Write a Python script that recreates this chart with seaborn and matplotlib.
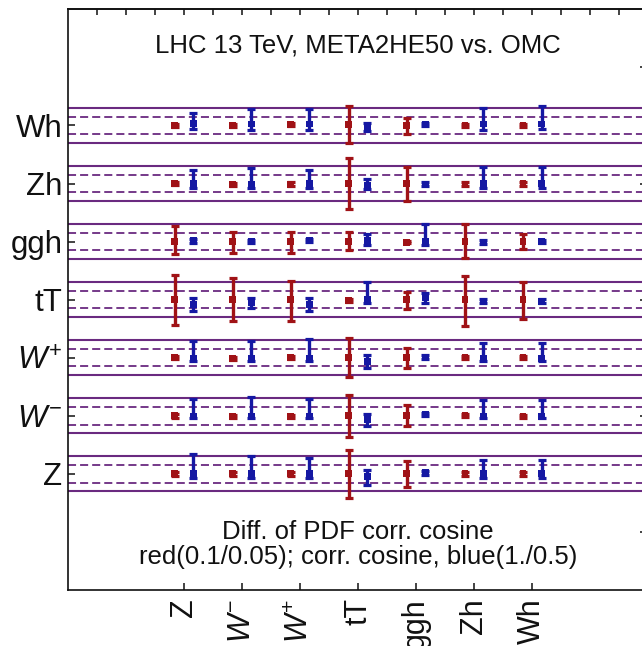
import numpy as np
import pandas as pd
import matplotlib
matplotlib.use("Agg")
import matplotlib.pyplot as plt
import seaborn as sns

# Processes, listed bottom-to-top on the y axis and left-to-right on the x axis
processes = ["Z", "W-", "W+", "tT", "ggh", "Zh", "Wh"]
tick_labels = ["Z", r"$W^{-}$", r"$W^{+}$", "tT", "ggh", "Zh", "Wh"]

# Difference of PDF correlation cosine (red): value and error-bar bounds.
# One row per y-process (Z ... Wh), one entry per x-process (Z ... Wh).
red_val = [
    [0.0, 0.0, 0.0, 0.0, 0.0, 0.0, 0.0],
    [0.0, -0.004, -0.004, 0.0, 0.003, 0.002, -0.004],
    [0.0, -0.004, 0.0, 0.0, 0.0, 0.0, 0.0],
    [0.0, 0.0, 0.0, -0.004, 0.0, 0.0, 0.0],
    [0.0, 0.0, 0.0, 0.0, -0.004, 0.0, 0.0],
    [0.0, -0.007, -0.004, 0.0, 0.0, -0.004, -0.002],
    [0.0, 0.0, 0.006, 0.004, 0.0, 0.0, 0.0],
]
red_lo = [
    [-0.01, -0.01, -0.01, -0.140, -0.077, -0.01, -0.01],
    [-0.01, -0.014, -0.014, -0.123, -0.057, -0.008, -0.014],
    [-0.01, -0.014, -0.01, -0.111, -0.058, -0.01, -0.01],
    [-0.143, -0.121, -0.121, -0.014, -0.055, -0.149, -0.111],
    [-0.072, -0.064, -0.064, -0.049, -0.009, -0.096, -0.045],
    [-0.01, -0.017, -0.014, -0.145, -0.102, -0.014, -0.012],
    [-0.01, -0.01, -0.004, -0.102, -0.049, -0.01, -0.01],
]
red_hi = [
    [0.01, 0.01, 0.01, 0.138, 0.074, 0.01, 0.01],
    [0.01, 0.006, 0.006, 0.119, 0.062, 0.012, 0.006],
    [0.01, 0.006, 0.01, 0.115, 0.058, 0.01, 0.01],
    [0.143, 0.125, 0.109, 0.006, 0.043, 0.138, 0.102],
    [0.087, 0.055, 0.055, 0.055, 0.001, 0.102, 0.042],
    [0.01, 0.003, 0.006, 0.147, 0.094, 0.006, 0.008],
    [0.01, 0.01, 0.016, 0.111, 0.045, 0.01, 0.01],
]

# Correlation cosine (blue): value and error-bar bounds
blue_val = [
    [0.02, 0.02, 0.02, -0.17, 0.06, 0.02, 0.02],
    [-0.02, -0.02, -0.02, -0.19, 0.08, -0.02, -0.02],
    [-0.05, -0.05, -0.03, -0.20, 0.04, -0.03, -0.03],
    [-0.30, -0.19, -0.26, 0.0, 0.11, -0.09, -0.09],
    [0.04, 0.0, 0.05, 0.08, 0.0, -0.03, 0.0],
    [0.0, -0.04, 0.0, -0.09, -0.04, 0.0, 0.0],
    [0.11, 0.08, 0.08, -0.08, 0.04, 0.08, 0.08],
]
blue_lo = [
    [-0.21, -0.21, -0.21, -0.64, -0.04, -0.21, -0.21],
    [-0.13, -0.13, -0.13, -0.57, -0.02, -0.13, -0.13],
    [-0.21, -0.21, -0.17, -0.58, -0.06, -0.17, -0.17],
    [-0.64, -0.49, -0.64, -0.17, -0.17, -0.19, -0.19],
    [-0.06, -0.10, -0.05, -0.20, -0.20, -0.13, -0.10],
    [-0.23, -0.23, -0.23, -0.32, -0.14, -0.23, -0.23],
    [-0.21, -0.26, -0.25, -0.30, -0.06, -0.26, -0.21],
]
blue_hi = [
    [1.15, 1.00, 0.92, 0.20, 0.14, 0.77, 0.81],
    [0.94, 1.08, 0.94, 0.13, 0.18, 0.89, 0.89],
    [0.96, 0.96, 1.09, 0.17, 0.14, 0.87, 0.87],
    [0.08, 0.11, 0.11, 1.02, 0.40, 0.01, 0.01],
    [0.14, 0.10, 0.15, 0.45, 1.02, 0.07, 0.10],
    [0.75, 0.90, 0.75, 0.25, 0.06, 0.94, 0.94],
    [0.74, 0.92, 0.92, 0.15, 0.14, 0.98, 1.11],
]

# Reference scales: red 0.1/0.05, blue 1./0.5 map onto the solid/dashed guide lines
RED_REF, BLUE_REF = 0.1, 1.0
SOLID_OFF, DASH_OFF = 0.3, 0.15
X_SHIFT = 0.16

RED = "#a01216"
BLUE = "#1518a3"
PURPLE = "#6a2a80"

sns.set_style("white")
plt.rcParams["font.family"] = ["Liberation Sans", "DejaVu Sans"]
plt.rcParams["mathtext.fontset"] = "custom"
plt.rcParams["mathtext.rm"] = "Liberation Sans"
plt.rcParams["mathtext.it"] = "Liberation Sans:italic"
plt.rcParams["lines.scale_dashes"] = False
plt.rcParams["text.color"] = "#111111"

records = []
for r in range(len(processes)):
    for c in range(len(processes)):
        for series, val, lo, hi, ref, dx in (
            ("red", red_val, red_lo, red_hi, RED_REF, -X_SHIFT),
            ("blue", blue_val, blue_lo, blue_hi, BLUE_REF, X_SHIFT),
        ):
            scale = SOLID_OFF / ref
            records.append({
                "series": series,
                "x": c + dx,
                "y": r + val[r][c] * scale,
                "ylo": r + lo[r][c] * scale,
                "yhi": r + hi[r][c] * scale,
            })
df = pd.DataFrame(records)

fig = plt.figure(figsize=(6.42, 6.46), dpi=100)
ax = fig.add_axes([68 / 642, 56 / 646, 580.3 / 642, 580.7 / 646])
ax.set_xlim(-2, 8)
ax.set_ylim(-2, 8)

# Guide lines for every process row
for r in range(len(processes)):
    for off in (SOLID_OFF, -SOLID_OFF):
        ax.axhline(r + off, color=PURPLE, lw=1.5, zorder=1)
    for off in (DASH_OFF, -DASH_OFF):
        ax.axhline(r + off, color=PURPLE, lw=1.3, ls="--", dashes=(5.8, 2.9), zorder=1)

palette = {"red": RED, "blue": BLUE}
for name, g in df.groupby("series"):
    ax.errorbar(g["x"], g["y"], yerr=[g["y"] - g["ylo"], g["yhi"] - g["y"]],
                fmt="none", ecolor=palette[name], elinewidth=2.4,
                capsize=2.9, capthick=2.3, zorder=3)
sns.scatterplot(data=df, x="x", y="y", hue="series", palette=palette,
                marker="s", s=24, linewidth=0, legend=False, ax=ax, zorder=4)
ax.set_xlabel("")
ax.set_ylabel("")

ax.set_xticks(range(len(processes)))
ax.set_xticklabels(tick_labels, rotation=90, fontsize=22)
ax.set_yticks(range(len(processes)))
ax.set_yticklabels(tick_labels, fontsize=22.5)
ax.tick_params(axis="x", direction="in", length=4.7, width=1.1, pad=6,
               colors="#111111", bottom=True, top=False)
ax.tick_params(axis="y", direction="in", length=5.0, width=1.1, pad=4,
               colors="#111111", left=True, right=False)

ax_top = ax.secondary_xaxis("top")
ax_top.set_xticks(np.arange(-1.5, 7.6, 0.5))
ax_top.xaxis.set_ticklabels([])
ax_top.tick_params(direction="in", length=4.0, width=1.1, colors="#111111")

ax_right = ax.secondary_yaxis("right")
ax_right.set_yticks([-1, 1, 3, 5, 7])
ax_right.yaxis.set_ticklabels([])
ax_right.tick_params(direction="in", length=5.8, width=1.1, colors="#111111")

for sp in list(ax.spines.values()) + list(ax_top.spines.values()) + list(ax_right.spines.values()):
    sp.set_color("#111111")
    sp.set_linewidth(1.2)

ax.text(3, 7.262, "LHC 13 TeV, META2HE50 vs. OMC", ha="center", va="baseline", fontsize=18.5)
ax.text(3, -1.118, "Diff. of PDF corr. cosine", ha="center", va="baseline", fontsize=18.5)
ax.text(3, -1.548, "red(0.1/0.05); corr. cosine, blue(1./0.5)", ha="center",
        va="baseline", fontsize=18.5)

fig.savefig("out.png", dpi=100)
